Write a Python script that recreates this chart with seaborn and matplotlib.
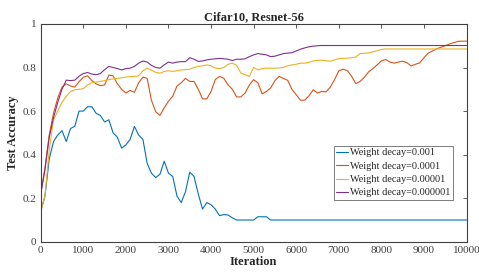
import pandas as pd
import seaborn as sns
import matplotlib.pyplot as plt
import numpy as np
from matplotlib.ticker import FormatStrFormatter

iterations = list(range(0, 10001, 100))

acc_wd_1e3 = [0.14, 0.21, 0.38, 0.46, 0.49, 0.51, 0.46, 0.52, 0.53, 0.60,
              0.60, 0.62, 0.62, 0.59, 0.58, 0.55, 0.56, 0.50, 0.48, 0.43,
              0.445, 0.47, 0.53, 0.49, 0.47, 0.36, 0.315, 0.295, 0.31, 0.37,
              0.315, 0.30, 0.21, 0.18, 0.23, 0.32, 0.30, 0.22, 0.15, 0.18,
              0.17, 0.15, 0.12, 0.125, 0.123, 0.11, 0.10, 0.10, 0.10, 0.10,
              0.10, 0.115, 0.115, 0.115, 0.10, 0.10, 0.10, 0.10, 0.10, 0.10,
              0.10, 0.10, 0.10, 0.10, 0.10, 0.10, 0.10, 0.10, 0.10, 0.10,
              0.10, 0.10, 0.10, 0.10, 0.10, 0.10, 0.10, 0.10, 0.10, 0.10,
              0.10, 0.10, 0.10, 0.10, 0.10, 0.10, 0.10, 0.10, 0.10, 0.10,
              0.10, 0.10, 0.10, 0.10, 0.10, 0.10, 0.10, 0.10, 0.10, 0.10,
              0.10]

acc_wd_1e4 = [0.22, 0.34, 0.49, 0.59, 0.66, 0.71, 0.725, 0.715, 0.71, 0.735,
              0.755, 0.762, 0.74, 0.725, 0.717, 0.72, 0.765, 0.762, 0.725, 0.70,
              0.683, 0.695, 0.686, 0.73, 0.756, 0.75, 0.65, 0.597, 0.58, 0.615,
              0.645, 0.668, 0.715, 0.73, 0.75, 0.736, 0.736, 0.70, 0.656, 0.656,
              0.69, 0.745, 0.759, 0.75, 0.72, 0.70, 0.665, 0.665, 0.683, 0.72,
              0.744, 0.73, 0.679, 0.69, 0.706, 0.74, 0.759, 0.75, 0.741, 0.70,
              0.675, 0.65, 0.65, 0.67, 0.698, 0.683, 0.69, 0.688, 0.71, 0.744,
              0.785, 0.792, 0.786, 0.76, 0.726, 0.736, 0.755, 0.78, 0.795, 0.812,
              0.83, 0.837, 0.825, 0.82, 0.825, 0.829, 0.822, 0.807, 0.815, 0.821,
              0.845, 0.866, 0.876, 0.886, 0.893, 0.90, 0.908, 0.914, 0.92, 0.921,
              0.921]

acc_wd_1e5 = [0.14, 0.21, 0.42, 0.56, 0.60, 0.64, 0.668, 0.69, 0.698, 0.70,
              0.703, 0.72, 0.73, 0.733, 0.736, 0.74, 0.744, 0.748, 0.75, 0.753,
              0.756, 0.758, 0.759, 0.762, 0.785, 0.797, 0.788, 0.778, 0.774, 0.782,
              0.785, 0.782, 0.785, 0.789, 0.79, 0.792, 0.80, 0.805, 0.808, 0.812,
              0.808, 0.797, 0.795, 0.80, 0.815, 0.82, 0.81, 0.775, 0.767, 0.759,
              0.80, 0.789, 0.795, 0.797, 0.797, 0.797, 0.798, 0.80, 0.808, 0.812,
              0.815, 0.82, 0.82, 0.824, 0.83, 0.833, 0.833, 0.831, 0.829, 0.835,
              0.841, 0.842, 0.843, 0.845, 0.848, 0.864, 0.865, 0.867, 0.872, 0.877,
              0.883, 0.885, 0.885, 0.885, 0.885, 0.885, 0.885, 0.885, 0.885, 0.885,
              0.885, 0.885, 0.885, 0.885, 0.885, 0.885, 0.885, 0.885, 0.885, 0.885,
              0.885]

acc_wd_1e6 = [0.22, 0.33, 0.48, 0.57, 0.64, 0.70, 0.742, 0.74, 0.742, 0.76,
              0.772, 0.777, 0.77, 0.767, 0.772, 0.79, 0.805, 0.80, 0.795, 0.789,
              0.795, 0.797, 0.805, 0.82, 0.83, 0.825, 0.81, 0.80, 0.797, 0.812,
              0.825, 0.82, 0.825, 0.827, 0.827, 0.845, 0.838, 0.828, 0.83, 0.835,
              0.838, 0.84, 0.842, 0.84, 0.838, 0.832, 0.838, 0.838, 0.84, 0.85,
              0.858, 0.864, 0.861, 0.858, 0.85, 0.852, 0.858, 0.864, 0.866, 0.868,
              0.876, 0.884, 0.89, 0.895, 0.898, 0.90, 0.901, 0.901, 0.901, 0.901,
              0.901, 0.901, 0.901, 0.901, 0.901, 0.901, 0.901, 0.901, 0.901, 0.901,
              0.901, 0.901, 0.901, 0.901, 0.901, 0.901, 0.901, 0.901, 0.901, 0.901,
              0.901, 0.901, 0.901, 0.901, 0.901, 0.901, 0.901, 0.901, 0.901, 0.901,
              0.901]

labels = ['Weight decay=0.001', 'Weight decay=0.0001',
          'Weight decay=0.00001', 'Weight decay=0.000001']
colors = ['#0072BD', '#D95319', '#EDB120', '#7E2F8E']

# long form for seaborn
frames = []
for lab, acc in zip(labels, [acc_wd_1e3, acc_wd_1e4, acc_wd_1e5, acc_wd_1e6]):
    frames.append(pd.DataFrame({'Iteration': iterations, 'acc': acc, 'wd': lab}))
df = pd.concat(frames, ignore_index=True)

sns.set_style('white')
plt.rcParams['font.family'] = ['Liberation Serif', 'DejaVu Serif']

fig = plt.figure(figsize=(4.79, 2.72), dpi=100)
ax = fig.add_axes([0.085, 0.111, 0.889, 0.801])

sns.lineplot(data=df, x='Iteration', y='acc', hue='wd', hue_order=labels,
             palette=colors, linewidth=0.8, ax=ax)

ax.set_xlim(0, 10000)
ax.set_ylim(0, 1)
ax.set_xticks(np.arange(0, 10001, 1000))
ax.set_yticks(np.arange(0, 1.01, 0.2))
ax.yaxis.set_major_formatter(FormatStrFormatter('%g'))
ax.tick_params(direction='in', length=3, width=0.6, top=True, right=True,
               labelsize=8, colors='#404040', pad=3)
for s in ax.spines.values():
    s.set_color('#404040')
    s.set_linewidth(0.8)

ax.set_title('Cifar10, Resnet-56', fontsize=9, fontweight='bold', pad=3)
ax.set_xlabel('Iteration', fontsize=9, fontweight='bold', labelpad=1)
ax.set_ylabel('Test Accuracy', fontsize=9, fontweight='bold', labelpad=3)

leg = ax.legend(loc='upper right', bbox_to_anchor=(0.968, 0.441), fontsize=7.4,
                frameon=True, fancybox=False, edgecolor='#404040',
                handlelength=1.2, handletextpad=0.15, labelspacing=0.4,
                borderpad=0.25, borderaxespad=0)
leg.get_frame().set_linewidth(0.6)

fig.savefig('out.png', dpi=100)
